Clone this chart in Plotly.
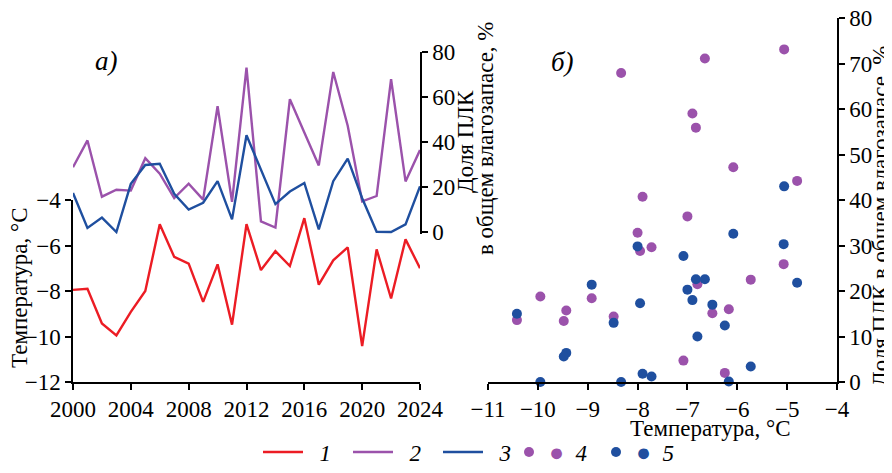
import plotly.graph_objects as go

# ---------------- data ----------------
years = list(range(2000, 2025))
temperature = [-7.95, -7.9, -9.43, -9.95, -8.92, -8.0, -5.07, -6.5, -6.8, -8.48,
               -6.83, -9.48, -5.06, -7.08, -6.25, -6.9, -4.8, -7.72, -6.65, -6.08,
               -10.42, -6.17, -8.33, -5.73, -7.0]
share_2 = [28.8, 40.7, 15.7, 18.8, 18.4, 32.8, 25.9, 15.1, 21.5, 14.4,
           55.9, 13.4, 73.1, 4.7, 2.0, 59.0, 44.2, 29.6, 71.1, 47.2,
           13.6, 16.0, 67.9, 22.5, 36.4]
share_3 = [17.3, 1.8, 6.4, 0.0, 21.4, 29.8, 30.3, 17.0, 10.0, 13.0,
           22.6, 5.6, 43.0, 27.7, 12.4, 18.0, 21.8, 1.2, 22.6, 32.6,
           15.0, 0.1, 0.0, 3.4, 20.3]
year_ticks = [2000, 2004, 2008, 2012, 2016, 2020, 2024]
temp_ticks = [-12, -10, -8, -6, -4]
share_ticks_a = [0, 20, 40, 60, 80]
share_ticks_b = [0, 10, 20, 30, 40, 50, 60, 70, 80]
scatter_temp_ticks = [-11, -10, -9, -8, -7, -6, -5, -4]
legend_labels = ["1", "2", "3", "4", "5"]

# ---------------- style ----------------
PAGE_W, PAGE_H = 892, 473
OFF = 8                      # default body margin of the html page
W, H = PAGE_W - OFF, PAGE_H - OFF
RED = "#ec1c24"
PURPLE = "#9b52ab"
BLUE = "#1f4f9f"
FONT = "Liberation Serif"
FS = 23
NB = "\u00a0"


def fx(p):
    return (p - OFF) / W


def fy(p):
    return 1 - (p - OFF) / H


def line_name(label):
    return NB * 2 + "<i>%s</i>" % label


def dot_name(color, label):
    return ("<span style='color:%s;font-size:25px'>\u25cf</span>" % color
            + NB * 2 + "<i>%s</i>" % label)


fig = go.Figure()
fig.add_trace(go.Scatter(x=years, y=temperature, mode="lines",
                         line=dict(color=RED, width=2.4),
                         name=line_name(legend_labels[0]),
                         xaxis="x", yaxis="y", legend="legend"))
fig.add_trace(go.Scatter(x=years, y=share_2, mode="lines",
                         line=dict(color=PURPLE, width=2.4),
                         name=line_name(legend_labels[1]),
                         xaxis="x", yaxis="y2", legend="legend"))
fig.add_trace(go.Scatter(x=years, y=share_3, mode="lines",
                         line=dict(color=BLUE, width=2.4),
                         name=line_name(legend_labels[2]),
                         xaxis="x", yaxis="y2", legend="legend"))
fig.add_trace(go.Scatter(x=temperature, y=share_2, mode="markers",
                         marker=dict(color=PURPLE, size=10),
                         cliponaxis=False,
                         name=dot_name(PURPLE, legend_labels[3]),
                         xaxis="x3", yaxis="y3", legend="legend2"))
fig.add_trace(go.Scatter(x=temperature, y=share_3, mode="markers",
                         marker=dict(color=BLUE, size=10),
                         cliponaxis=False,
                         name=dot_name(BLUE, legend_labels[4]),
                         xaxis="x3", yaxis="y3", legend="legend2"))

axis_common = dict(showline=True, linecolor="black", linewidth=1.5,
                   ticks="outside", ticklen=6, tickwidth=1.5, tickcolor="black",
                   showgrid=False, zeroline=False, automargin=False,
                   ticklabeloverflow="allow",
                   tickfont=dict(family=FONT, size=FS, color="black"))


def label(text, x, y, size=FS, angle=0):
    return dict(text=text, x=fx(x), y=fy(y), xref="paper", yref="paper",
                xanchor="center", yanchor="middle", textangle=angle,
                showarrow=False, font=dict(family=FONT, size=size, color="black"))


fig.update_layout(
    width=W, height=H,
    margin=dict(l=0, r=0, t=0, b=0, autoexpand=False),
    paper_bgcolor="white", plot_bgcolor="rgba(0,0,0,0)",
    font=dict(family=FONT, size=FS, color="black"),
    xaxis=dict(domain=[fx(73), fx(420)], range=[2000, 2024], tickvals=year_ticks,
               anchor="y", **axis_common),
    yaxis=dict(domain=[fy(382), fy(200)], range=[-12, -4], tickvals=temp_ticks,
               anchor="x", side="left", **axis_common),
    yaxis2=dict(domain=[fy(234.25), fy(52)], range=[-1, 80], tickvals=share_ticks_a,
                anchor="x", side="right", **axis_common),
    xaxis3=dict(domain=[fx(488), fx(837)], range=[-11, -4], tickvals=scatter_temp_ticks,
                anchor="y3", **axis_common),
    yaxis3=dict(domain=[fy(382), fy(18)], range=[0, 80], tickvals=share_ticks_b,
                anchor="x3", side="right", **axis_common),
    legend=dict(orientation="h", x=fx(258), xanchor="left", y=fy(452), yanchor="middle",
                font=dict(family=FONT, size=FS, color="black"), itemwidth=40,
                entrywidth=35, bgcolor="rgba(0,0,0,0)", borderwidth=0),
    legend2=dict(orientation="h", x=fx(509), xanchor="left", y=fy(452), yanchor="middle",
                 font=dict(family=FONT, size=FS, color="black"), itemwidth=30,
                 entrywidth=42, bgcolor="rgba(0,0,0,0)", borderwidth=0),
    annotations=[
        label("<i>а)</i>", 106, 61, size=27),
        label("<i>б)</i>", 562, 62, size=27),
        label("Температура, °C", 19, 288, angle=-90),
        label("Доля ПЛК", 466, 142, angle=-90),
        label("в общем влагозапасе, %", 485, 138, angle=-90),
        label("Доля ПЛК в общем влагозапасе, %", 881, 216, angle=-90),
        label("Температура, °C", 710, 428),
    ],
)

fig.write_html("out.html")
